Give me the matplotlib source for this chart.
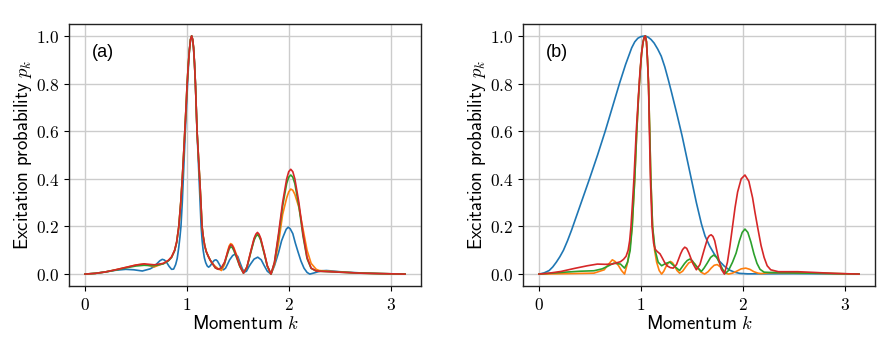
import numpy as np
import matplotlib
matplotlib.use("Agg")
import matplotlib.pyplot as plt

plt.rcParams["mathtext.fontset"] = "cm"

PI = np.pi

# ---- panel (a) ----
a_blue_k = [0, 0.1, 0.2, 0.3, 0.4, 0.48, 0.563, 0.64, 0.68, 0.709,
            0.735, 0.759, 0.78, 0.80, 0.825, 0.85, 0.87, 0.89, 0.905, 0.92,
            0.932, 0.942, 0.955, 0.965, 0.975, 0.985, 0.996, 1.007, 1.016, 1.025,
            1.036, 1.047, 1.056, 1.065, 1.075, 1.084, 1.092, 1.10, 1.11, 1.12,
            1.13, 1.14, 1.15, 1.16, 1.172, 1.185, 1.2, 1.214, 1.23, 1.25,
            1.27, 1.286, 1.30, 1.32, 1.34, 1.36, 1.38, 1.40, 1.42, 1.45,
            1.475, 1.50, 1.52, 1.545, 1.565, 1.585, 1.61, 1.63, 1.66, 1.696,
            1.73, 1.76, 1.79, 1.826, 1.86, 1.9, 1.93, 1.95, 1.975, 1.995,
            2.015, 2.04, 2.065, 2.09, 2.12, 2.15, 2.18, 2.207, 2.25, 2.29,
            2.33, 2.37, 2.43, 2.5, 2.7, 2.9, PI]
a_blue_p = [0, 0.003, 0.009, 0.016, 0.02, 0.018, 0.013, 0.022, 0.032, 0.045,
            0.056, 0.062, 0.059, 0.05, 0.033, 0.02, 0.021, 0.04, 0.065, 0.11,
            0.155, 0.2, 0.3, 0.4, 0.5, 0.6, 0.7, 0.8, 0.875, 0.94,
            0.985, 1.0, 0.985, 0.95, 0.885, 0.8, 0.7, 0.6, 0.5, 0.4,
            0.3, 0.2, 0.14, 0.1, 0.068, 0.048, 0.034, 0.029, 0.035, 0.048,
            0.058, 0.06, 0.055, 0.04, 0.024, 0.018, 0.025, 0.042, 0.06, 0.078,
            0.084, 0.074, 0.05, 0.022, 0.008, 0.012, 0.032, 0.045, 0.063, 0.071,
            0.06, 0.035, 0.012, 0.0, 0.035, 0.09, 0.14, 0.162, 0.188, 0.197,
            0.19, 0.17, 0.13, 0.095, 0.055, 0.025, 0.007, 0.0, 0.005, 0.01,
            0.014, 0.015, 0.013, 0.01, 0.005, 0.002, 0]

a_k = [0, 0.1, 0.2, 0.3, 0.4, 0.5, 0.58, 0.68, 0.77, 0.82,
       0.85, 0.88, 0.90, 0.921, 0.94, 0.955, 0.968, 0.98, 0.992, 1.003,
       1.015, 1.025, 1.036, 1.047, 1.057, 1.066, 1.075, 1.084, 1.092, 1.10,
       1.113, 1.126, 1.138, 1.149, 1.16, 1.175, 1.19, 1.21, 1.23, 1.25,
       1.28, 1.31, 1.34, 1.37, 1.40, 1.415, 1.43, 1.445, 1.46, 1.49,
       1.52, 1.556, 1.59, 1.63, 1.66, 1.678, 1.693, 1.708, 1.725, 1.76,
       1.79, 1.826, 1.86, 1.90, 1.94, 1.98, 2.0, 2.02, 2.04, 2.06,
       2.10, 2.14, 2.18, 2.22, 2.27, 2.3, 2.5, 2.7, 2.9, PI]
a_red_p = [0, 0.003, 0.009, 0.018, 0.028, 0.038, 0.043, 0.039, 0.045, 0.058,
           0.072, 0.1, 0.135, 0.2, 0.3, 0.4, 0.5, 0.6, 0.7, 0.8,
           0.885, 0.94, 0.985, 1.0, 0.985, 0.95, 0.885, 0.8, 0.7, 0.6,
           0.5, 0.4, 0.3, 0.2, 0.16, 0.12, 0.095, 0.075, 0.058, 0.045,
           0.026, 0.02, 0.027, 0.05, 0.092, 0.112, 0.123, 0.12, 0.108, 0.072,
           0.034, 0.004, 0.03, 0.1, 0.15, 0.168, 0.175, 0.168, 0.15, 0.09,
           0.035, 0.0, 0.05, 0.17, 0.3, 0.4, 0.43, 0.44, 0.43, 0.4,
           0.3, 0.17, 0.07, 0.025, 0.013, 0.012, 0.008, 0.004, 0.002, 0]
a_green_p = [0, 0.003, 0.009, 0.017, 0.026, 0.034, 0.037, 0.035, 0.043, 0.056,
             0.07, 0.098, 0.133, 0.2, 0.3, 0.4, 0.5, 0.6, 0.7, 0.8,
             0.885, 0.94, 0.985, 1.0, 0.985, 0.95, 0.885, 0.8, 0.7, 0.6,
             0.5, 0.4, 0.3, 0.2, 0.16, 0.12, 0.095, 0.075, 0.058, 0.045,
             0.026, 0.02, 0.026, 0.047, 0.086, 0.105, 0.115, 0.112, 0.1, 0.067,
             0.032, 0.004, 0.028, 0.095, 0.142, 0.159, 0.165, 0.159, 0.142, 0.085,
             0.033, 0.0, 0.048, 0.16, 0.285, 0.38, 0.407, 0.416, 0.407, 0.38,
             0.285, 0.16, 0.065, 0.024, 0.013, 0.012, 0.008, 0.004, 0.002, 0]
a_orange_p = [0, 0.003, 0.009, 0.018, 0.028, 0.038, 0.042, 0.03, 0.045, 0.058,
              0.072, 0.1, 0.135, 0.2, 0.3, 0.4, 0.5, 0.6, 0.7, 0.8,
              0.885, 0.94, 0.985, 1.0, 0.985, 0.95, 0.885, 0.8, 0.7, 0.6,
              0.5, 0.4, 0.3, 0.2, 0.16, 0.12, 0.095, 0.075, 0.058, 0.045,
              0.032, 0.022, 0.015, 0.04, 0.095, 0.118, 0.128, 0.124, 0.112, 0.078,
              0.036, 0.005, 0.03, 0.098, 0.147, 0.163, 0.17, 0.163, 0.147, 0.088,
              0.034, 0.0, 0.04, 0.13, 0.25, 0.32, 0.345, 0.357, 0.352, 0.335,
              0.28, 0.19, 0.1, 0.045, 0.02, 0.015, 0.009, 0.004, 0.002, 0]

# ---- panel (b) ----
b_blue_k = [0, 0.05, 0.1, 0.135, 0.17, 0.205, 0.24, 0.28, 0.32, 0.365,
            0.41, 0.455, 0.5, 0.575, 0.65, 0.72, 0.79, 0.85, 0.91, 0.94,
            0.97, 1.0, 1.04, 1.07, 1.10, 1.13, 1.165, 1.2, 1.235, 1.27,
            1.30, 1.355, 1.405, 1.45, 1.495, 1.545, 1.595, 1.63, 1.675,
            1.72, 1.77, 1.82, 1.87, 1.92, 1.97, 2.05, 2.5, 2.9, PI]
b_blue_p = [0, 0.005, 0.015, 0.03, 0.05, 0.073, 0.1, 0.14, 0.185, 0.24,
            0.295, 0.35, 0.405, 0.5, 0.6, 0.7, 0.8, 0.88, 0.95, 0.975,
            0.99, 0.997, 1.0, 0.995, 0.985, 0.97, 0.945, 0.915, 0.87, 0.815,
            0.765, 0.67, 0.58, 0.49, 0.4, 0.3, 0.21, 0.16, 0.118,
            0.085, 0.055, 0.033, 0.017, 0.008, 0.003, 0.001, 0.002, 0.001, 0]

b_red_k = [0, 0.1, 0.215, 0.35, 0.475, 0.573, 0.65, 0.72, 0.80, 0.83,
           0.855, 0.875, 0.89, 0.903, 0.918, 0.932, 0.955, 0.975, 0.99, 1.005,
           1.02, 1.032, 1.044, 1.055, 1.065, 1.075, 1.084, 1.094, 1.11, 1.125,
           1.14, 1.16, 1.188, 1.21, 1.237, 1.26, 1.29, 1.318, 1.35, 1.39,
           1.41, 1.431, 1.45, 1.47, 1.51, 1.545, 1.58, 1.62, 1.655, 1.672,
           1.69, 1.708, 1.725, 1.76, 1.79, 1.82, 1.85, 1.875, 1.90, 1.925,
           1.95, 1.985, 2.022, 2.06, 2.097, 2.12, 2.145, 2.18, 2.21, 2.24,
           2.275, 2.35, 2.54, 2.7, 2.9, PI]
b_red_p = [0, 0.004, 0.011, 0.024, 0.035, 0.042, 0.041, 0.042, 0.052, 0.062,
           0.075, 0.1, 0.14, 0.2, 0.3, 0.4, 0.6, 0.74, 0.84, 0.92,
           0.97, 0.993, 1.0, 0.975, 0.9, 0.8, 0.6, 0.4, 0.2, 0.13,
           0.105, 0.095, 0.085, 0.068, 0.046, 0.034, 0.027, 0.025, 0.04, 0.085,
           0.103, 0.113, 0.108, 0.09, 0.045, 0.018, 0.04, 0.1, 0.15, 0.161,
           0.165, 0.158, 0.14, 0.07, 0.02, 0.0, 0.05, 0.12, 0.2, 0.28,
           0.345, 0.4, 0.416, 0.39, 0.32, 0.26, 0.2, 0.12, 0.07, 0.035,
           0.018, 0.01, 0.01, 0.007, 0.003, 0]

b_green_k = [0, 0.215, 0.4, 0.54, 0.62, 0.67, 0.735, 0.80, 0.84, 0.87,
             0.895, 0.915, 0.94, 0.96, 0.978, 0.993, 1.008, 1.022, 1.034, 1.044,
             1.055, 1.065, 1.075, 1.087, 1.098, 1.115, 1.14, 1.17, 1.204, 1.245,
             1.285, 1.33, 1.38, 1.43, 1.455, 1.48, 1.505, 1.54, 1.594, 1.62,
             1.65, 1.685, 1.715, 1.745, 1.78, 1.805, 1.83, 1.86, 1.90, 1.935,
             1.967, 1.995, 2.022, 2.05, 2.08, 2.11, 2.14, 2.17, 2.21, 2.26,
             2.5, 2.8, PI]
b_green_p = [0, 0.007, 0.012, 0.014, 0.022, 0.032, 0.046, 0.042, 0.025, 0.05,
             0.1, 0.2, 0.4, 0.6, 0.75, 0.85, 0.93, 0.975, 0.995, 1.0,
             0.975, 0.9, 0.8, 0.6, 0.4, 0.2, 0.1, 0.05, 0.035, 0.045,
             0.05, 0.033, 0.015, 0.045, 0.057, 0.063, 0.056, 0.035, 0.011, 0.025,
             0.045, 0.07, 0.08, 0.07, 0.04, 0.018, 0.003, 0.015, 0.05, 0.088,
             0.139, 0.175, 0.189, 0.175, 0.135, 0.085, 0.045, 0.02, 0.008, 0.007,
             0.005, 0.003, 0]

b_orange_k = [0, 0.3, 0.54, 0.64, 0.68, 0.72, 0.75, 0.78, 0.81, 0.84,
              0.865, 0.89, 0.915, 0.94, 0.96, 0.978, 0.993, 1.008, 1.022, 1.034,
              1.044, 1.055, 1.065, 1.075, 1.087, 1.098, 1.115, 1.135, 1.155, 1.18,
              1.204, 1.225, 1.245, 1.27, 1.29, 1.31, 1.33, 1.355, 1.38, 1.41,
              1.44, 1.47, 1.50, 1.53, 1.56, 1.59, 1.626, 1.66, 1.69, 1.72,
              1.75, 1.78, 1.81, 1.835, 1.86, 1.90, 1.94, 1.985, 2.03, 2.07,
              2.11, 2.15, 2.18, 2.25, 2.3, 2.5, 2.8, PI]
b_orange_p = [0, 0.002, 0.004, 0.018, 0.04, 0.06, 0.052, 0.036, 0.015, 0.0,
              0.04, 0.1, 0.2, 0.4, 0.6, 0.75, 0.85, 0.93, 0.975, 0.995,
              1.0, 0.975, 0.9, 0.8, 0.6, 0.4, 0.2, 0.1, 0.05, 0.015,
              0.0, 0.012, 0.03, 0.048, 0.053, 0.048, 0.035, 0.015, 0.004, 0.012,
              0.03, 0.047, 0.052, 0.043, 0.025, 0.008, 0.0, 0.01, 0.025, 0.037,
              0.04, 0.03, 0.015, 0.004, 0.0, 0.004, 0.012, 0.022, 0.025, 0.02,
              0.01, 0.004, 0.002, 0.005, 0.006, 0.006, 0.003, 0]

fig = plt.figure(figsize=(8.96, 3.41), dpi=100)
ax_a = fig.add_axes([69 / 896, 1 - 286 / 341, 352 / 896, 262 / 341])
ax_b = fig.add_axes([523 / 896, 1 - 286 / 341, 352 / 896, 262 / 341])


def draw(ax, series, tag):
    for k, p, c in series:
        ax.plot(k, p, color=c, lw=1.2)
    ax.set_xticks([0, 1, 2, 3])
    ax.set_xticklabels([f"${t}$" for t in [0, 1, 2, 3]], fontsize=12.5)
    yt = [0.0, 0.2, 0.4, 0.6, 0.8, 1.0]
    ax.set_yticks(yt)
    ax.set_yticklabels([f"${t:.1f}$" for t in yt], fontsize=12.5)
    ax.grid(True, color="#cccccc", lw=1.0)
    ax.set_axisbelow(True)
    ax.set_xlabel(r"$\mathsf{Momentum}\ k$", fontsize=13.5, labelpad=0)
    ax.set_ylabel(r"$\mathsf{Excitation\ probability}\ p_k$", fontsize=13.5, labelpad=1)
    for s in ax.spines.values():
        s.set_color("#222222")
        s.set_linewidth(1.0)
    ax.text(0.065, 0.89, tag, transform=ax.transAxes, fontsize=13,
            family="Liberation Sans", va="center", ha="left")


draw(ax_a, [(a_blue_k, a_blue_p, "tab:blue"), (a_k, a_orange_p, "tab:orange"),
            (a_k, a_green_p, "tab:green"), (a_k, a_red_p, "tab:red")], "(a)")
draw(ax_b, [(b_blue_k, b_blue_p, "tab:blue"), (b_orange_k, b_orange_p, "tab:orange"),
            (b_green_k, b_green_p, "tab:green"), (b_red_k, b_red_p, "tab:red")], "(b)")

plt.savefig("out.png", dpi=100)
